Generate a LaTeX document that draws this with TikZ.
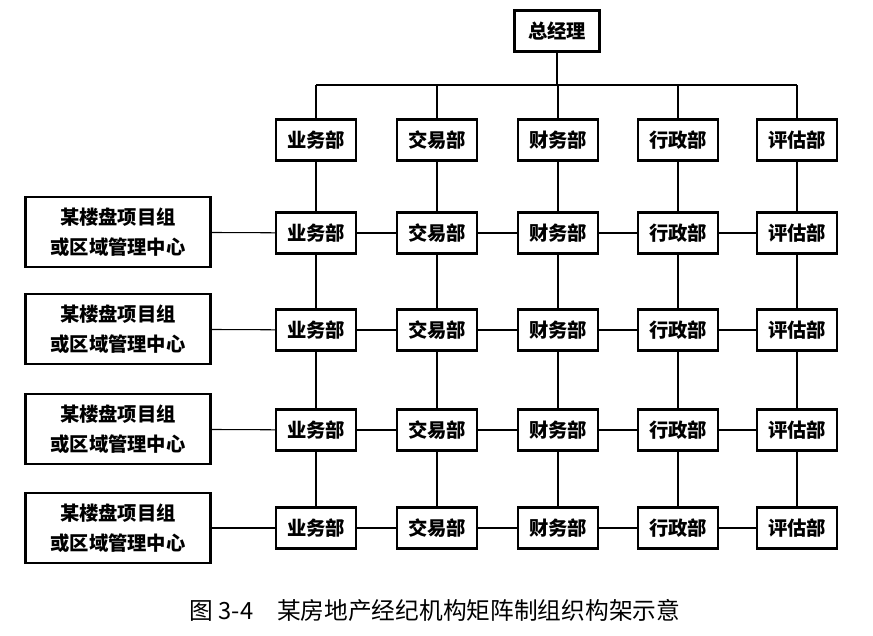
\documentclass[tikz,border=0pt]{standalone}
\usepackage{fontspec}
\setmainfont{Noto Sans CJK SC}
\usetikzlibrary{positioning}
\begin{document}
\begin{tikzpicture}[
x=0.02cm, y=-0.02cm,
box/.style={
draw,
line width=1.2pt,
fill=white,
minimum width=1.6cm,
minimum height=0.82cm,
inner sep=0 pt,
font=\fontsize{11}{13}\selectfont\bfseries,
},
proj/.style={
box,
minimum width=3.7cm,
minimum height=1.4cm,
align=center,
font=\fontsize{11}{17}\selectfont\bfseries,
},
link/.style={line width=0.6pt},
]
\useasboundingbox (0,0) rectangle (873,636);

% top
\node [box, minimum width=1.7cm] at (557,31) (gm) {总经理};
\coordinate (busL) at (316,85);
\coordinate (busR) at (797,85);
\coordinate (busM) at (557,85);

% departments
\foreach \i/\x/\t in {1/316/业务部, 2/437/交易部, 3/558/财务部, 4/678/行政部, 5/797/评估部}
{
\node [box] at (\x,140) (d\i) {\t};
\foreach \j/\y in {1/233, 2/330, 3/430, 4/528}
\node [box] at (\x,\y) (g\j\i) {\t};
}

% project groups
\foreach \j/\y in {1/232, 2/329, 3/429, 4/528}
\node [proj] at (118,\y) (p\j) {某楼盘项目组\\或区域管理中心};

% bus
\draw [link] (gm) -- (busM);
\draw [link] (busL) -- (busR);
\foreach \i in {1,...,5}
{
\draw [link] (d\i |- busL) -- (d\i);
\draw [link] (d\i) -- (g1\i);
\draw [link] (g1\i) -- (g2\i);
\draw [link] (g2\i) -- (g3\i);
\draw [link] (g3\i) -- (g4\i);
}

% rows
\foreach \j in {1,...,4}
{
\draw [link] (p\j) -- (g\j1);
\draw [link] (g\j1) -- (g\j2);
\draw [link] (g\j2) -- (g\j3);
\draw [link] (g\j3) -- (g\j4);
\draw [link] (g\j4) -- (g\j5);
}

% caption
\node [font=\fontsize{13.5}{16}\selectfont] at (435,610) (cap)
{图 3-4\quad 某房地产经纪机构矩阵制组织构架示意};
\end{tikzpicture}
\end{document}
